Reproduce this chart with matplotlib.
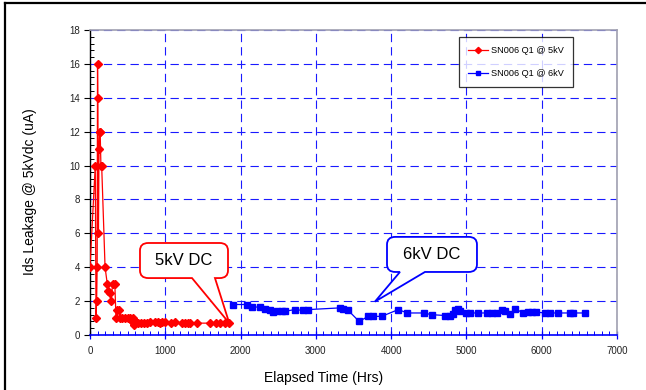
import matplotlib
matplotlib.use("Agg")
import matplotlib.pyplot as plt
from matplotlib.path import Path
from matplotlib.patches import PathPatch
from matplotlib.lines import Line2D
from matplotlib.ticker import MultipleLocator

plt.rcParams['font.family'] = ['Liberation Sans', 'DejaVu Sans']
plt.rcParams['lines.scale_dashes'] = False

# ---- data ----
red_label = "SN006 Q1 @ 5kV"
red_hours = [0, 70, 80, 88, 95, 100, 104, 112, 120, 128, 135, 145, 155, 200, 230,
             240, 260, 280, 300, 330, 345, 360, 380, 400, 430, 460, 500, 530, 550,
             560, 570, 580, 590, 600, 640, 680, 720, 760, 800, 860, 900, 930, 950,
             1000, 1080, 1130, 1220, 1260, 1300, 1330, 1420, 1590, 1680, 1730,
             1790, 1850]
red_vals = [4, 10, 1, 2, 4, 16, 14, 6, 11, 12, 12, 10, 10, 4, 3,
            2.6, 2.5, 2, 3, 3, 1, 1.5, 1.5, 1, 1, 1, 1, 1, 0.9,
            0.8, 1, 0.6, 0.7, 0.8, 0.7, 0.7, 0.7, 0.7, 0.75, 0.75, 0.75, 0.7, 0.75,
            0.75, 0.7, 0.75, 0.7, 0.7, 0.7, 0.7, 0.7, 0.7, 0.7, 0.7,
            0.7, 0.7]

blue_label = "SN006 Q1 @ 6kV"
blue_hours = [1900, 2080, 2150, 2260, 2320, 2390, 2435, 2480, 2545, 2590, 2720,
              2830, 2900, 3320, 3365, 3430, 3575, 3695, 3765, 3875, 4095, 4215,
              4430, 4540, 4715, 4780, 4825, 4850, 4890, 4915, 5000, 5050, 5155,
              5270, 5335, 5400, 5470, 5510, 5580, 5645, 5755, 5820, 5870, 5930,
              6040, 6110, 6220, 6375, 6420, 6575]
blue_vals = [1.8, 1.8, 1.65, 1.65, 1.55, 1.45, 1.35, 1.4, 1.4, 1.4, 1.5,
             1.45, 1.5, 1.6, 1.55, 1.45, 0.8, 1.1, 1.1, 1.1, 1.5, 1.3,
             1.3, 1.2, 1.15, 1.1, 1.25, 1.5, 1.55, 1.4, 1.3, 1.3, 1.3,
             1.3, 1.3, 1.3, 1.5, 1.4, 1.25, 1.55, 1.3, 1.35, 1.35, 1.35,
             1.3, 1.3, 1.3, 1.3, 1.3, 1.3]

x_label = "Elapsed Time (Hrs)"
y_label = "Ids Leakage @ 5kVdc (uA)"
callout_5kv = "5kV DC"
callout_6kv = "6kV DC"

# ---- figure ----
W, H = 646, 390
fig = plt.figure(figsize=(W / 100, H / 100), dpi=100)
ax = fig.add_axes([90 / W, 1 - 335 / H, 527 / W, 305 / H])

ax.plot(blue_hours, blue_vals, color='#0000ff', lw=0.9, marker='s', ms=4.3,
        mec='#0000ff', mfc='#0000ff', label=blue_label, zorder=3)
ax.plot(red_hours, red_vals, color='#ff0000', lw=0.9, marker='D', ms=4,
        mec='#ff0000', mfc='#ff0000', label=red_label, zorder=4)

ax.set_xlim(0, 7000)
ax.set_ylim(0, 18)
ax.xaxis.set_major_locator(MultipleLocator(1000))
ax.xaxis.set_minor_locator(MultipleLocator(100))
ax.yaxis.set_major_locator(MultipleLocator(2))
ax.yaxis.set_minor_locator(MultipleLocator(0.4))

ax.grid(True, which='major', color='#1a1aff', lw=0.8, linestyle=(0, (6, 3.6)))
ax.set_axisbelow(True)

for s in ['top', 'right']:
    ax.spines[s].set_color('#a0a0b0')
    ax.spines[s].set_linewidth(1.2)
ax.spines['left'].set_color('black')
ax.spines['left'].set_linewidth(1.0)
ax.spines['bottom'].set_color('#0000ff')
ax.spines['bottom'].set_linewidth(1.2)

ax.tick_params(axis='x', which='major', direction='inout', length=6, width=0.9,
               color='#0000ff', labelsize=7, labelcolor='#222222', pad=5)
ax.tick_params(axis='x', which='minor', direction='in', length=3, width=0.7,
               color='#0000ff')
ax.tick_params(axis='y', which='major', direction='out', length=4, width=0.8,
               color='black', labelsize=7, labelcolor='#222222', pad=3)
ax.tick_params(axis='y', which='minor', direction='in', length=3, width=0.7,
               color='black')

ax.set_xlabel(x_label, fontsize=10)
ax.set_ylabel(y_label, fontsize=10)
ax.xaxis.set_label_coords(0.444, -0.118)
ax.yaxis.set_label_coords(-0.1, 0.469)

handles, labels = ax.get_legend_handles_labels()
leg = ax.legend(handles[::-1], labels[::-1], loc='upper left',
                bbox_to_anchor=(0.700, 0.977), borderaxespad=0, fontsize=6.6,
                frameon=True, fancybox=False, edgecolor='black',
                handlelength=2.2, labelspacing=1.5, borderpad=1.0,
                handletextpad=0.3, markerscale=0.8)
leg.get_frame().set_linewidth(0.9)
leg.set_zorder(10)


def bubble(x0, x1, y0, y1, base_l, base_r, tip, rx, ry, color, text):
    """Speech bubble: rounded box [x0,x1]x[y0,y1] with tail from bottom edge."""
    verts = [
        (base_r, y0),
        (x1 - rx, y0), (x1, y0), (x1, y0 + ry),
        (x1, y1 - ry), (x1, y1), (x1 - rx, y1),
        (x0 + rx, y1), (x0, y1), (x0, y1 - ry),
        (x0, y0 + ry), (x0, y0), (x0 + rx, y0),
        (base_l, y0),
        tip,
        (base_r, y0),
    ]
    codes = [Path.MOVETO,
             Path.LINETO, Path.CURVE3, Path.CURVE3,
             Path.LINETO, Path.CURVE3, Path.CURVE3,
             Path.LINETO, Path.CURVE3, Path.CURVE3,
             Path.LINETO, Path.CURVE3, Path.CURVE3,
             Path.LINETO, Path.LINETO, Path.CLOSEPOLY]
    patch = PathPatch(Path(verts, codes), facecolor='white', edgecolor=color,
                      lw=1.3, zorder=8, clip_on=False)
    ax.add_patch(patch)
    ax.text((x0 + x1) / 2, (y0 + y1) / 2, text, ha='center', va='center',
            fontsize=12, color='black', zorder=9)


bubble(664, 1833, 3.36, 5.43, 1355, 1660, (red_hours[-1], red_vals[-1]),
       110, 0.45, '#ff0000', callout_5kv)
bubble(3945, 5140, 3.72, 5.79, 4117, 4449, (3785, 1.97),
       110, 0.45, '#0000ff', callout_6kv)

# outer frame (partially visible in the reference)
fig.add_artist(Line2D([5 / W, 5 / W], [0, 1 - 3 / H], color='black', lw=1.6,
                      transform=fig.transFigure))
fig.add_artist(Line2D([5 / W, 1], [1 - 3 / H, 1 - 3 / H], color='black', lw=1.6,
                      transform=fig.transFigure))

fig.savefig("out.png", dpi=100)
